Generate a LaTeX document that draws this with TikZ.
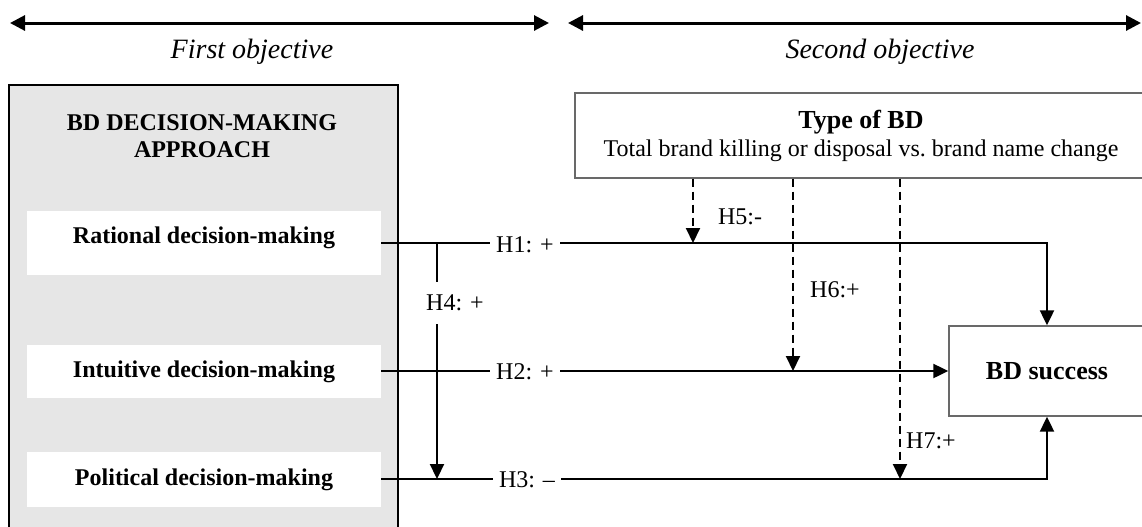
\documentclass[tikz,border=0pt]{standalone}
\usepackage{fontspec}
\setmainfont{Liberation Serif}
\usepackage{tikz}
\usetikzlibrary{arrows.meta, positioning}
\usepackage{xcolor}
\definecolor{panelgray}{RGB}{230,230,230}
\definecolor{framegray}{RGB}{105,105,105}

\begin{document}
\begin{tikzpicture}[x=0.5pt, y=-0.5pt,
    approachbox/.style={fill=white, minimum width=177pt, inner sep=0pt,
      text height=8.5pt, font=\bfseries\fontsize{12}{14}\selectfont},
    hyplabel/.style={inner sep=3pt, font=\fontsize{12}{14}\selectfont},
    link/.style={line width=1.1pt},
    effect/.style={line width=1.1pt, -{Triangle[length=7.5pt, width=7pt]}},
    moderation/.style={line width=1pt, dash pattern=on 4pt off 2.5pt,
      -{Triangle[length=7.5pt, width=7pt]}}]

  \clip (0,0) rectangle (1142,526);

  % objectives
  \coordinate (obj1w) at (10,23);
  \coordinate (obj1e) at (549,23);
  \coordinate (obj2w) at (568,23);
  \coordinate (obj2e) at (1141,23);
  \foreach \a/\b in {obj1w/obj1e, obj2w/obj2e}
    \draw[line width=1.5pt, {Triangle[length=7.5pt, width=7.5pt]}-{Triangle[length=7.5pt, width=7.5pt]}]
      (\a) -- (\b);
  \node[font=\itshape\fontsize{14}{16}\selectfont] (obj1) at (252,52) {First objective};
  \node[font=\itshape\fontsize{14}{16}\selectfont] (obj2) at (880,52) {Second objective};

  % decision-making approach
  \node[draw, line width=1pt, fill=panelgray, anchor=north west,
    minimum width=194.5pt, minimum height=240pt] (approach) at (8,84) {};
  \node[font=\bfseries\fontsize{12}{13.5}\selectfont, align=center]
    (approachtitle) at (202,136) {BD DECISION-MAKING\\APPROACH};
  \foreach \nm/\y/\h/\d/\kind in {rational/243/32/8.5/Rational,
      intuitive/371/26.5/2.5/Intuitive, political/479/27.5/2.5/Political}
    \node[approachbox, minimum height=\h pt, text depth=\d pt] (\nm) at (204,\y)
      {\kind\ decision-making};

  % type of BD
  \node[draw=framegray, line width=0.7pt, minimum width=286pt, minimum height=42.5pt,
    align=center, font=\fontsize{12}{14}\selectfont] (bdtype) at (861,135.5)
    {{\bfseries\fontsize{13}{14}\selectfont Type of BD}\\Total brand killing or disposal vs.\ brand name change};

  % BD success
  \node[draw=framegray, line width=0.7pt, minimum width=98pt, minimum height=45pt,
    font=\bfseries\fontsize{13}{14}\selectfont] (success) at (1047,371) {BD success};

  % direct effects H1--H3
  \node[hyplabel] (h1) at (525,245) {H1: +};
  \node[hyplabel] (h2) at (525,372) {H2: +};
  \node[hyplabel] (h3) at (527,480) {H3: –};
  \draw[link] (rational.east) -- (h1.west |- rational.east);
  \draw[effect] (h1.east |- rational.east) -- (success.north |- rational.east) -- (success.north);
  \draw[link] (intuitive.east) -- (h2.west |- intuitive.east);
  \draw[effect] (h2.east |- intuitive.east) -- (success.west);
  \draw[link] (political.east) -- (h3.west |- political.east);
  \draw[effect] (h3.east |- political.east) -- (success.south |- political.east) -- (success.south);

  % H4
  \node[hyplabel, inner ysep=6.5pt] (h4) at (455,303) {H4: +};
  \coordinate (h4start) at (437,243);
  \coordinate (h4end) at (437,479);
  \draw[link] (h4start) -- (h4start |- h4.north);
  \draw[effect] (h4start |- h4.south) -- (h4end);

  % moderation H5--H7
  \coordinate (m5) at (693,243);
  \coordinate (m6) at (793,371);
  \coordinate (m7) at (900,479);
  \foreach \m in {m5, m6, m7}
    \draw[moderation] (bdtype.south -| \m) -- (\m);
  \node[hyplabel] (h5) at (740,217) {H5:-};
  \node[hyplabel] (h6) at (835,290) {H6:+};
  \node[hyplabel] (h7) at (931,441) {H7:+};

\end{tikzpicture}
\end{document}
